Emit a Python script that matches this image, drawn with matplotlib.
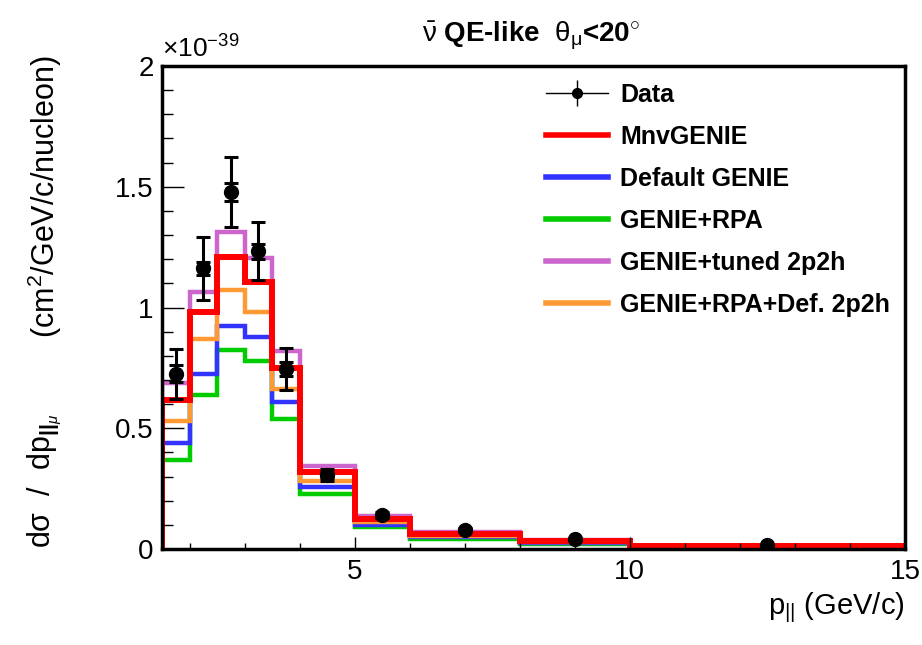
import numpy as np
import matplotlib
matplotlib.use("Agg")
import matplotlib.pyplot as plt
from matplotlib.lines import Line2D
from matplotlib.ticker import MultipleLocator, FormatStrFormatter

plt.rcParams['font.family'] = ['Liberation Sans', 'DejaVu Sans']
plt.rcParams['mathtext.fontset'] = 'custom'
plt.rcParams['mathtext.rm'] = 'Liberation Sans'
plt.rcParams['mathtext.it'] = 'Liberation Sans:italic'
plt.rcParams['mathtext.bf'] = 'Liberation Sans:bold'

# bin edges of p_|| (GeV/c)
edges = [1.5, 2.0, 2.5, 3.0, 3.5, 4.0, 5.0, 6.0, 8.0, 10.0, 15.0]
centers = [1.75, 2.25, 2.75, 3.25, 3.75, 4.5, 5.5, 7.0, 9.0, 12.5]

# cross section in units of 1e-39 cm^2/GeV/c/nucleon
data = [0.725, 1.163, 1.478, 1.232, 0.745, 0.305, 0.140, 0.080, 0.041, 0.016]
data_stat = [0.035, 0.027, 0.037, 0.030, 0.030, 0.012, 0.006, 0.003, 0.002, 0.001]
data_tot = [0.103, 0.130, 0.145, 0.120, 0.088, 0.025, 0.012, 0.007, 0.004, 0.002]

mnv_genie = [0.617, 0.981, 1.209, 1.106, 0.750, 0.319, 0.124, 0.064, 0.035, 0.012]
default_genie = [0.439, 0.725, 0.923, 0.878, 0.609, 0.257, 0.100, 0.048, 0.024, 0.009]
genie_rpa = [0.369, 0.638, 0.824, 0.778, 0.538, 0.228, 0.090, 0.041, 0.020, 0.007]
genie_2p2h = [0.687, 1.064, 1.313, 1.205, 0.820, 0.344, 0.135, 0.072, 0.038, 0.013]
genie_rpa_def = [0.530, 0.870, 1.072, 0.981, 0.662, 0.282, 0.112, 0.052, 0.027, 0.010]


def main():
  fig = plt.figure(figsize=(9.22, 6.45), dpi=100)
  ax = fig.add_axes([162/922, 1 - 549/645, (905-162)/922, (549-66)/645])

  lw = 3.2
  ax.stairs(genie_rpa, edges, baseline=0, color='#00cc00', lw=lw)
  ax.stairs(default_genie, edges, baseline=0, color='#3333ff', lw=lw)
  ax.stairs(genie_rpa_def, edges, baseline=0, color='#ff9933', lw=lw)
  ax.stairs(genie_2p2h, edges, baseline=0, color='#cc66cc', lw=lw)
  ax.stairs(mnv_genie, edges, baseline=0, color='#ff0000', lw=4.3)

  # total and statistical error bars
  ax.errorbar(centers, data, yerr=data_tot, fmt='none', ecolor='k', elinewidth=2.2,
              capsize=5, capthick=2.2, zorder=5)
  ax.errorbar(centers, data, yerr=data_stat, fmt='o', color='k', ms=10, elinewidth=2.2,
              capsize=5, capthick=2.2, zorder=6)

  ax.set_xlim(1.5, 15)
  ax.set_ylim(0, 2)
  ax.xaxis.set_major_locator(MultipleLocator(5))
  ax.xaxis.set_minor_locator(MultipleLocator(1))
  ax.yaxis.set_major_locator(MultipleLocator(0.5))
  ax.yaxis.set_minor_locator(MultipleLocator(0.1))
  ax.yaxis.set_major_formatter(FormatStrFormatter('%g'))
  ax.tick_params(axis='both', which='both', direction='in', labelsize=20, width=1)
  ax.tick_params(axis='x', which='major', length=9, pad=7)
  ax.tick_params(axis='x', which='minor', length=4)
  ax.tick_params(axis='y', which='major', length=16, pad=6)
  ax.tick_params(axis='y', which='minor', length=8)
  for s in ax.spines.values():
    s.set_linewidth(2.5)

  ax.set_xlabel(r'p$_{||}$ (GeV/c)', fontsize=21, loc='right', labelpad=4)
  # y title in two pieces, like ROOT spreads it along the axis
  fig.text(45/922, 1 - 548/645, 'd\u03c3  /  dp$_{\\mathbf{||}_{\\mu}}$',
           fontsize=22, rotation=90, ha='center', va='bottom')
  fig.text(45/922, 1 - 55/645, '(cm$^{2}$/GeV/c/nucleon)',
           fontsize=22, rotation=90, ha='center', va='top')
  ax.text(0, 1.008, r'$\times$10$^{-39}$', transform=ax.transAxes, fontsize=19,
          ha='left', va='bottom')
  fig.text(531/922, 1 - 36/645, r'$\bar{\mathrm{\nu}}$ QE-like  $\mathrm{\theta_{\mu}}$<20$^{\circ}$',
           fontsize=20, fontweight='bold', ha='center', va='center')

  data_handle = (Line2D([], [], color='k', lw=1),
                 Line2D([], [], color='k', lw=0, marker='|', ms=19, mew=1),
                 Line2D([], [], color='k', lw=0, marker='o', ms=7))
  handles = [data_handle,
             Line2D([], [], color='#ff0000', lw=4),
             Line2D([], [], color='#3333ff', lw=4),
             Line2D([], [], color='#00cc00', lw=4),
             Line2D([], [], color='#cc66cc', lw=4),
             Line2D([], [], color='#ff9933', lw=4)]
  labels = ['Data', 'MnvGENIE', 'Default GENIE', 'GENIE+RPA', 'GENIE+tuned 2p2h',
            'GENIE+RPA+Def. 2p2h']
  ax.legend(handles, labels, loc='upper left', bbox_to_anchor=(0.486, 1.011),
            frameon=False, prop={'weight': 'bold', 'size': 18},
            handlelength=2.5, handletextpad=0.48, labelspacing=0.72)

  fig.savefig('out.png', dpi=100)


if __name__ == '__main__':
  main()
